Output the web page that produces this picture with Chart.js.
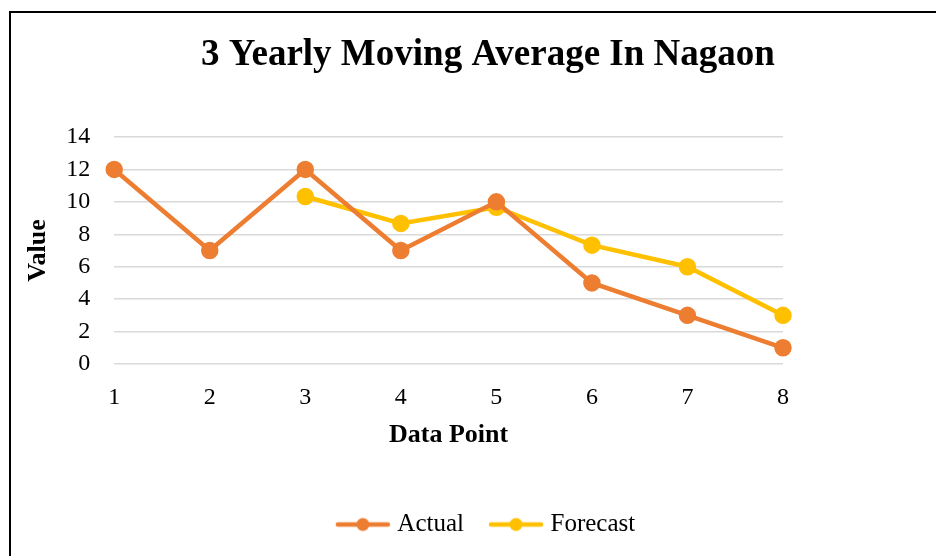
<!DOCTYPE html>
<html>
<head>
<meta charset="utf-8">
<script src="https://cdn.jsdelivr.net/npm/chart.js@4.4.1/dist/chart.umd.min.js"></script>
<style>
  html, body { margin: 0; padding: 0; background: #fff; overflow: hidden; width: 936px; height: 556px; }
  #frame { position: absolute; left: 9px; top: 11px; width: 980px; height: 600px; border: 2px solid #000; box-sizing: border-box; }
  #wrap { position: absolute; left: 0; top: 0; }
</style>
</head>
<body>
<div id="frame"></div>
<div id="wrap"><canvas id="movingAvg" width="974" height="556"></canvas></div>
<script>
const dataPoints = ['1', '2', '3', '4', '5', '6', '7', '8'];
const actualValues = [12, 7, 12, 7, 10, 5, 3, 1];
const forecastValues = [null, null, 10.33, 8.67, 9.67, 7.33, 6, 3];
const yTicks = [0, 2, 4, 6, 8, 10, 12, 14];

const orange = '#ED7D31';
const gold = '#FFC000';

// legend marker: short line with a dot, like Excel
function legendMarker(color) {
    const c = document.createElement('canvas');
    c.width = 56;
    c.height = 16;
    const g = c.getContext('2d');
    g.strokeStyle = color;
    g.lineWidth = 4.5;
    g.lineCap = 'round';
    g.beginPath();
    g.moveTo(3, 8);
    g.lineTo(53, 8);
    g.stroke();
    g.fillStyle = color;
    g.beginPath();
    g.arc(28, 8, 6.5, 0, Math.PI * 2);
    g.fill();
    return c;
}

const ctx = document.getElementById('movingAvg').getContext('2d');
const chart = new Chart(ctx, {
    type: 'line',
    data: {
        labels: dataPoints,
        datasets: [{
            label: 'Actual',
            data: actualValues,
            borderColor: orange,
            backgroundColor: orange,
            borderWidth: 4.5,
            pointRadius: 6.5,
            pointHoverRadius: 6.5,
            tension: 0
        }, {
            label: 'Forecast',
            data: forecastValues,
            borderColor: gold,
            backgroundColor: gold,
            borderWidth: 4.5,
            pointRadius: 6.5,
            pointHoverRadius: 6.5,
            tension: 0
        }]
    },
    options: {
        responsive: false,
        animation: false,
        layout: {
            padding: { top: 12, left: 12, right: 10, bottom: 9 }
        },
        plugins: {
            title: {
                display: true,
                text: '3 Yearly Moving Average In Nagaon',
                color: '#000',
                font: { family: 'Liberation Serif', size: 37, weight: 'bold', lineHeight: 1.2 },
                padding: { top: 21, bottom: 59.6 }
            },
            legend: {
                display: true,
                position: 'bottom',
                labels: {
                    color: '#000',
                    font: { family: 'Liberation Serif', size: 25 },
                    usePointStyle: true,
                    pointStyleWidth: 44,
                    padding: 30,
                    generateLabels: (ch) => ch.data.datasets.map((ds, i) => ({
                        text: ds.label,
                        fillStyle: ds.borderColor,
                        strokeStyle: ds.borderColor,
                        lineWidth: 0,
                        pointStyle: legendMarker(ds.borderColor),
                        hidden: false,
                        datasetIndex: i,
                        fontColor: '#000'
                    }))
                }
            },
            tooltip: { enabled: false }
        },
        scales: {
            x: {
                offset: false,
                grid: { display: false, drawTicks: false },
                border: { display: false },
                ticks: {
                    color: '#000',
                    padding: 19,
                    maxRotation: 0,
                    font: { family: 'Liberation Serif', size: 24, lineHeight: 1.2 }
                },
                title: {
                    display: true,
                    text: 'Data Point',
                    color: '#000',
                    font: { family: 'Liberation Serif', size: 26, weight: 'bold', lineHeight: 1.2 },
                    padding: { top: -11, bottom: 31 }
                }
            },
            y: {
                min: 0,
                max: 14,
                afterBuildTicks: (scale) => {
                    scale.ticks = yTicks.map(v => ({ value: v }));
                },
                grid: { color: '#D9D9D9', lineWidth: 1.5, drawTicks: false },
                border: { display: false },
                ticks: {
                    color: '#000',
                    padding: 24,
                    autoSkip: false,
                    font: { family: 'Liberation Serif', size: 24, lineHeight: 1.2 }
                },
                title: {
                    display: true,
                    text: 'Value',
                    color: '#000',
                    font: { family: 'Liberation Serif', size: 26, weight: 'bold', lineHeight: 1.2 },
                    padding: { top: 11, bottom: -12 }
                }
            },
            // empty right-hand band so the chart area ends where Excel's plot area does
            spacer: {
                type: 'linear',
                position: 'right',
                display: true,
                grid: { display: false, drawTicks: false },
                border: { display: false },
                ticks: { display: false },
                afterFit: (scale) => { scale.width = 181; }
            }
        }
    }
});
</script>
</body>
</html>
